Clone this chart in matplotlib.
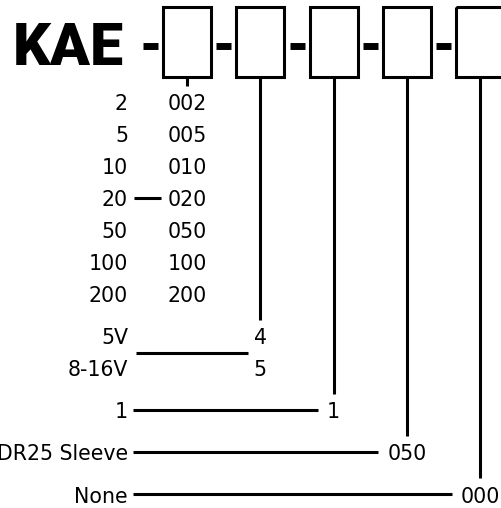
import matplotlib
matplotlib.use("Agg")
import matplotlib.pyplot as plt
from matplotlib.patches import Rectangle

# Part number prefix and the option groups that feed each field box
prefix = "KAE"
resistance_labels = ["2", "5", "10", "20", "50", "100", "200"]
resistance_codes = ["002", "005", "010", "020", "050", "100", "200"]
voltage_labels = ["5V", "8-16V"]
voltage_codes = ["4", "5"]
option_labels = ["1"]
option_codes = ["1"]
sleeve_labels = ["DR25 Sleeve"]
sleeve_codes = ["050"]
extra_labels = ["None"]
extra_codes = ["000"]

groups = [
    (resistance_labels, resistance_codes),
    (voltage_labels, voltage_codes),
    (option_labels, option_codes),
    (sleeve_labels, sleeve_codes),
    (extra_labels, extra_codes),
]

# Layout (pixel units, y grows downwards)
W, H = 502, 508
box_x0, box_step, box_w = 187, 73.3, 48
box_top, box_bot = 6.5, 76.5
dash_y = 46
row_y0, row_step, group_gap = 102, 32.1, 10.0
label_right = 128
font = "DejaVu Sans"
fs = 14.8
lw_line = 2.2
lw_dash = 5.0

fig = plt.figure(figsize=(W / 100, H / 100), dpi=100)
ax = fig.add_axes([0, 0, 1, 1])
ax.set_xlim(0, W)
ax.set_ylim(H, 0)
ax.axis("off")

# Prefix
ax.text(13, 65, prefix, fontsize=42.5, fontfamily="Roboto", fontweight="heavy",
        ha="left", va="baseline", color="black")

# Field boxes with dashes
centers = [box_x0 + i * box_step for i in range(len(groups))]
for cx in centers:
    left = cx - box_w / 2
    ax.add_patch(Rectangle((left, box_top), box_w, box_bot - box_top, fill=False,
                           edgecolor="black", linewidth=lw_line, joinstyle="miter"))
    ax.plot([left - 20, left - 5], [dash_y, dash_y], color="black", lw=lw_dash,
            solid_capstyle="butt")

renderer = fig.canvas.get_renderer()
inv = ax.transData.inverted()

def text_left(t):
    bb = t.get_window_extent(renderer)
    return inv.transform((bb.x0, bb.y0))[0]

row = 0
for g, (labels, codes) in enumerate(groups):
    cx = centers[g]
    ys = []
    code_texts = []
    for lab, code in zip(labels, codes):
        y = row_y0 + row * row_step + g * group_gap
        ys.append(y)
        ax.text(label_right, y + 7.5, lab, fontsize=fs, fontfamily=font,
                ha="right", va="baseline", color="black")
        code_texts.append(ax.text(cx, y + 7.5, code, fontsize=fs, fontfamily=font,
                                  ha="center", va="baseline", color="black"))
        row += 1

    # vertical lead from the box
    if g == 0:
        ax.plot([cx, cx], [box_bot, box_bot + 9.5], color="black", lw=lw_line,
                solid_capstyle="butt")
    else:
        ax.plot([cx, cx], [box_bot, ys[0] - 17], color="black", lw=lw_line,
                solid_capstyle="butt")

    # horizontal connector from labels to codes
    if len(ys) > 2:
        mid = len(ys) // 2
        x1 = text_left(code_texts[mid]) - 6
        ax.plot([label_right + 6, x1], [ys[mid], ys[mid]], color="black", lw=lw_line,
                solid_capstyle="butt")
    elif len(ys) == 2:
        ym = (ys[0] + ys[1]) / 2
        x1 = text_left(code_texts[0]) - 6
        ax.plot([label_right + 8, x1], [ym, ym], color="black", lw=lw_line,
                solid_capstyle="butt")
    else:
        x1 = text_left(code_texts[0]) - 9
        ax.plot([label_right + 5, x1], [ys[0] - 1, ys[0] - 1], color="black", lw=lw_line,
                solid_capstyle="butt")

fig.savefig("out.png", dpi=100, facecolor="white")
